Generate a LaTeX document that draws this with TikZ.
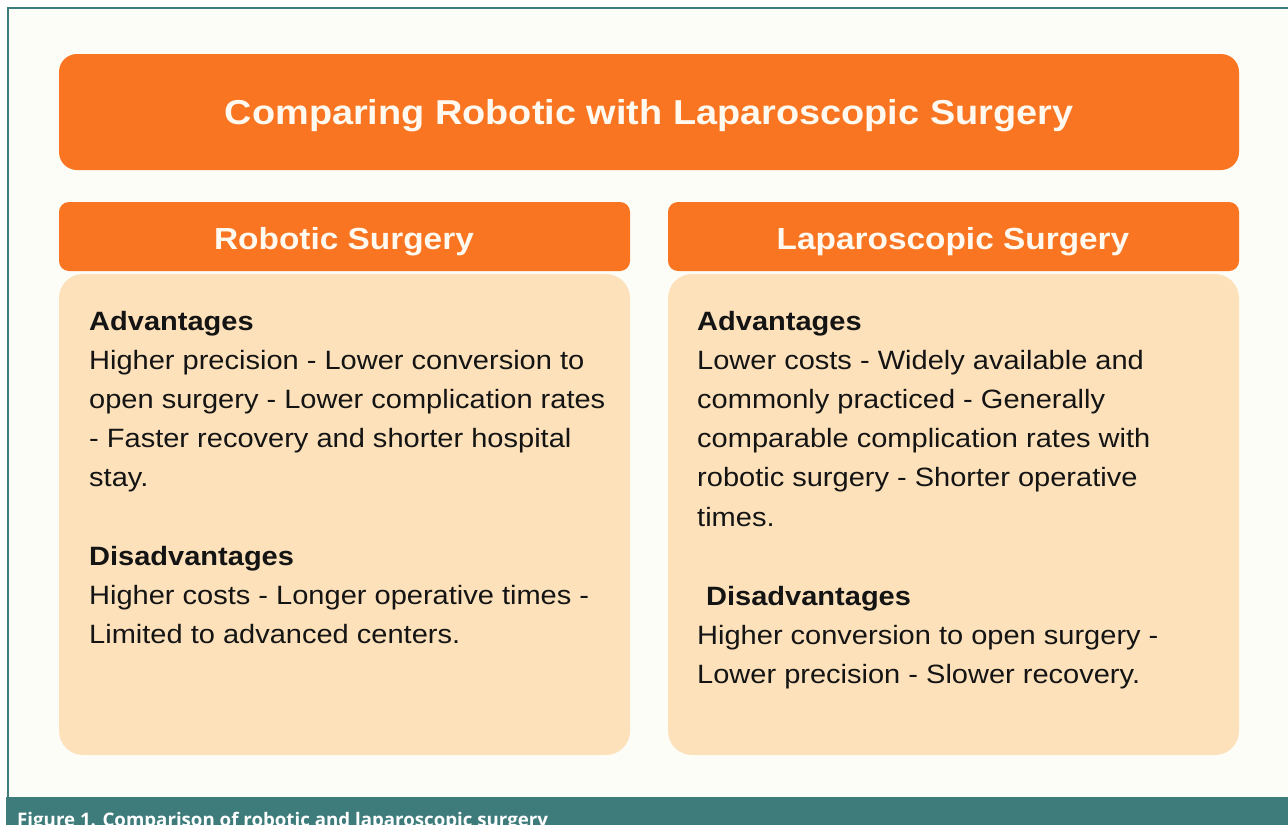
\documentclass[tikz,border=0pt]{standalone}
\usepackage{fontspec}
\setmainfont{Liberation Sans}[FakeStretch=1.095]
\newfontfamily\capfont{Open Sans}
\definecolor{orangeC}{HTML}{F97521}
\definecolor{bodyC}{HTML}{FDE1BA}
\definecolor{bgC}{HTML}{FDFDF7}
\definecolor{tealC}{HTML}{3E7B7B}
\definecolor{whiteC}{HTML}{FFF9F0}
\definecolor{inkC}{HTML}{141414}
\tikzset{
  x=1pt, y=-1pt,
  titlebox/.style={fill=orangeC, rounded corners=18pt},
  headbox/.style={fill=orangeC, rounded corners=10pt},
  bodybox/.style={fill=bodyC, rounded corners=24pt},
  titletext/.style={text=whiteC, font=\fontsize{34.6}{40}\selectfont\bfseries, inner sep=0pt},
  headtext/.style={text=whiteC, font=\fontsize{30.5}{35}\selectfont\bfseries, inner sep=0pt},
  bodyline/.style={anchor=base west, text=inkC, font=\fontsize{26.5}{39}\selectfont, inner sep=0pt},
  boldline/.style={bodyline, font=\fontsize{26.5}{39}\selectfont\bfseries},
}
\begin{document}
\begin{tikzpicture}
\useasboundingbox (0,0) rectangle (1288,825);
\fill[white] (0,0) rectangle (1288,825);
\fill[bgC] (8,8) rectangle (1288,797);
\draw[tealC, line width=2.8pt] (8,825) -- (8,8) -- (1288,8);
% caption bar
\fill[tealC] (6,797) rectangle (1288,825);
\begin{scope}
\clip (6,797) rectangle (1288,825);
\node[anchor=base west, text=white, font=\capfont\fontsize{18.7}{22}\selectfont\bfseries, inner sep=0pt] (cap) at (17,826) {Figure 1. Comparison of robotic and laparoscopic surgery};
\end{scope}
% title
\path[titlebox] (59,54) rectangle (1239,170);
\node[titletext] (title) at (649,116) {Comparing Robotic with Laparoscopic Surgery};
% headers
\path[headbox] (59,202) rectangle (630,271);
\node[headtext] (hl) at (344,242) {Robotic Surgery};
\path[headbox] (668,202) rectangle (1239,271);
\node[headtext] (hr) at (953,242) {Laparoscopic Surgery};
% bodies
\path[bodybox] (59,274) rectangle (630,755);
\path[bodybox] (668,274) rectangle (1239,755);
% left text
\node[boldline] (la) at (89,330) {Advantages};
\node[bodyline] (l1) at (89,369) {Higher precision - Lower conversion to};
\node[bodyline] (l2) at (89,408) {open surgery - Lower complication rates};
\node[bodyline] (l3) at (89,447) {- Faster recovery and shorter hospital};
\node[bodyline] (l4) at (89,486) {stay.};
\node[boldline] (ld) at (89,565) {Disadvantages};
\node[bodyline] (l5) at (89,604) {Higher costs - Longer operative times -};
\node[bodyline] (l6) at (89,643) {Limited to advanced centers.};
% right text
\node[boldline] (ra) at (697,330) {Advantages};
\node[bodyline] (r1) at (697,369) {Lower costs - Widely available and};
\node[bodyline] (r2) at (697,408) {commonly practiced - Generally};
\node[bodyline] (r3) at (697,447) {comparable complication rates with};
\node[bodyline] (r4) at (697,486) {robotic surgery - Shorter operative};
\node[bodyline] (r5) at (697,526) {times.};
\node[boldline] (rd) at (706,605) {Disadvantages};
\node[bodyline] (r6) at (697,644) {Higher conversion to open surgery -};
\node[bodyline] (r7) at (697,683) {Lower precision - Slower recovery.};
\end{tikzpicture}
\end{document}
